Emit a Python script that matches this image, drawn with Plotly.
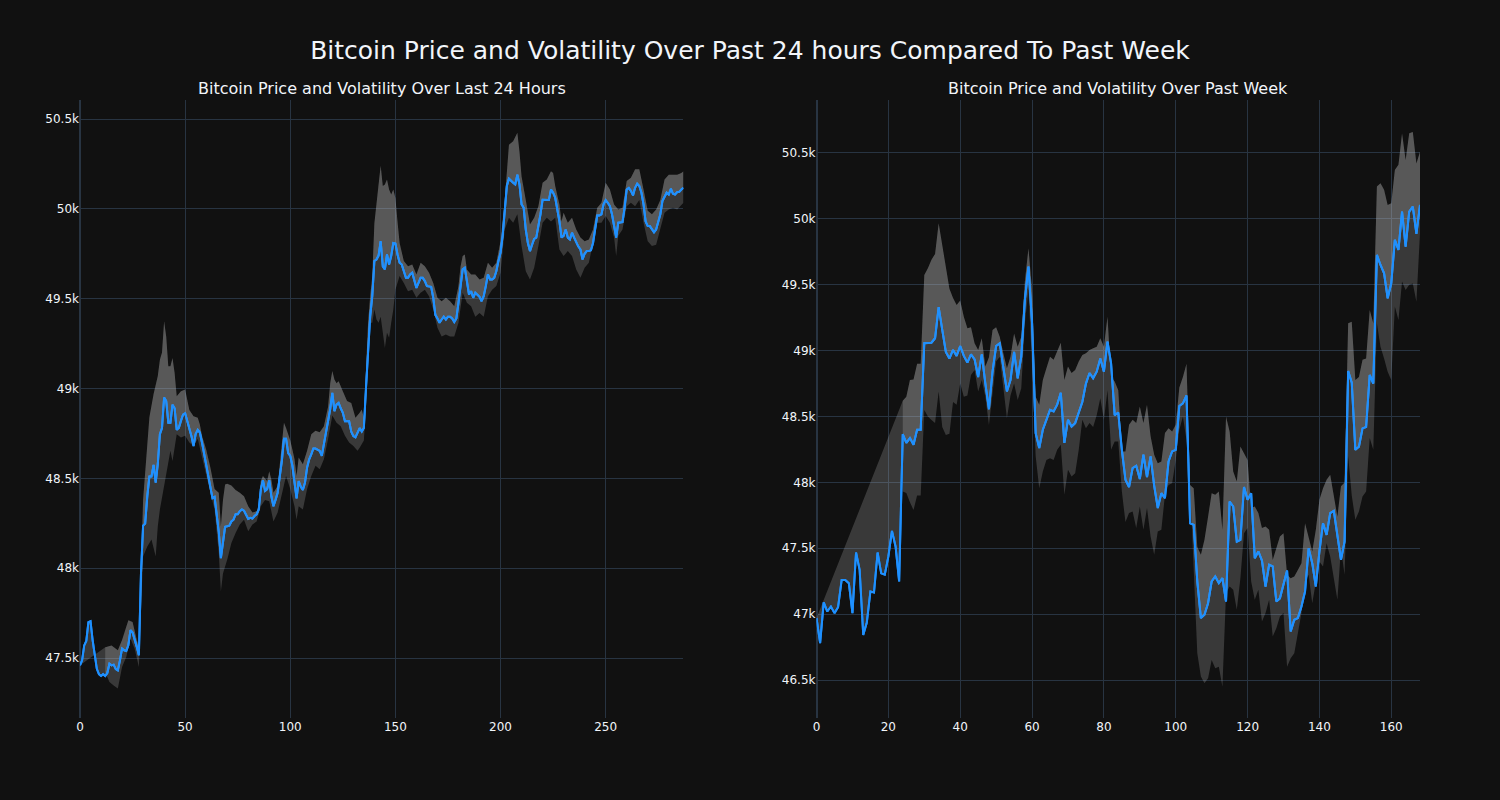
import plotly.graph_objects as go
from plotly.subplots import make_subplots

# ---------------- Last 24 hours (5-minute steps) ----------------
day_price = [
    47459, 47487, 47570, 47595, 47700, 47705, 47600, 47515, 47440, 47410,
    47400, 47410, 47400, 47416, 47468, 47459, 47463, 47438, 47431, 47487,
    47552, 47543, 47539, 47571, 47655, 47642, 47608, 47562, 47515, 47970,
    48237, 48248, 48400, 48510, 48510, 48575, 48476, 48580, 48746, 48780,
    48950, 48930, 48810, 48810, 48910, 48890, 48770, 48780, 48820, 48855,
    48862, 48820, 48780, 48735, 48680, 48746, 48770, 48755, 48700, 48640,
    48578, 48513, 48457, 48390, 48397, 48310, 48200, 48056, 48140, 48230,
    48233, 48237, 48260, 48270, 48300, 48300, 48317, 48327, 48320, 48300,
    48274, 48280, 48276, 48290, 48300, 48326, 48440, 48490, 48430, 48440,
    48490, 48400, 48345, 48380, 48420, 48510, 48597, 48720, 48720, 48640,
    48625, 48570, 48476, 48388, 48485, 48453, 48435, 48476, 48560, 48606,
    48634, 48666, 48666, 48660, 48653, 48625, 48700, 48756, 48820, 48886,
    48976, 48874, 48910, 48920, 48890, 48865, 48818, 48818, 48818, 48760,
    48735, 48728, 48756, 48780, 48760, 48780, 49000, 49226, 49400, 49514,
    49710, 49718, 49740, 49820, 49680, 49663, 49746, 49690, 49737, 49810,
    49807, 49746, 49700, 49690, 49653, 49616, 49616, 49635, 49644, 49607,
    49560, 49588, 49616, 49616, 49598, 49570, 49570, 49566, 49505, 49410,
    49390, 49366, 49384, 49400, 49384, 49400, 49400, 49390, 49370, 49390,
    49477, 49588, 49663, 49672, 49600, 49523, 49542, 49505, 49533, 49523,
    49510, 49486, 49514, 49570, 49635, 49607, 49607, 49616, 49653, 49710,
    49755, 49850, 49990, 50127, 50168, 50155, 50146, 50136, 50190, 50136,
    50025, 50006, 49885, 49810, 49765, 49800, 49833, 49840, 49895, 49970,
    50050, 50050, 50050, 50049, 50108, 50090, 50062, 50006, 49930, 49840,
    49850, 49885, 49840, 49830, 49867, 49840, 49810, 49790, 49774, 49718,
    49750, 49765, 49765, 49770, 49810, 49885, 49963, 49963, 49970, 50025,
    50049, 50034, 50015, 49970, 49904, 49840, 49923, 49923, 49926, 50006,
    50108, 50117, 50100, 50075, 50117, 50140, 50127, 50090, 50025, 49930,
    49904, 49904, 49885, 49870, 49885, 49923, 49970, 50043, 50070, 50090,
    50080, 50112, 50084, 50080, 50093, 50095, 50108, 50117,
]
day_x = list(range(len(day_price)))

day_upper_x = [
    12, 15, 18, 20, 23, 25, 27, 28, 30, 33, 35, 37, 38, 39, 40, 41, 42, 43, 44, 45,
    46, 48, 50, 52, 54, 56, 57, 58, 60, 62, 64, 66, 67, 68, 69, 70, 72, 74, 76, 78,
    80, 82, 84, 85, 86, 87, 89, 90, 91, 92, 94, 96, 97, 98, 100, 101, 102, 103, 104, 106,
    108, 110, 112, 114, 116, 118, 119, 120, 121, 122, 123, 125, 127, 129, 131, 133, 134, 135, 136, 137,
    138, 139, 140, 141, 142, 143, 144, 145, 146, 147, 148, 149, 150, 151, 152, 154, 156, 158, 160, 162,
    164, 166, 168, 170, 172, 174, 176, 178, 180, 181, 182, 183, 184, 186, 188, 190, 192, 194, 196, 198,
    200, 202, 203, 204, 206, 208, 209, 210, 212, 214, 216, 218, 220, 222, 224, 225, 226, 228, 229, 230,
    232, 234, 236, 238, 240, 242, 244, 246, 248, 250, 252, 254, 256, 258, 260, 262, 264, 266, 268, 270,
    272, 274, 276, 278, 280, 282, 284, 286, 287,
]
day_upper = [
    47560, 47570, 47543, 47600, 47710, 47700, 47600, 47560, 48380, 48840, 48970, 49070, 49160, 49200, 49375, 49290, 49124, 49124, 49170, 49087,
    48957, 48985, 48994, 48880, 48845, 48837, 48800, 48737, 48660, 48560, 48440, 48420, 48233, 48380, 48466, 48470, 48460, 48435, 48420, 48400,
    48345, 48310, 48317, 48345, 48485, 48513, 48485, 48540, 48494, 48420, 48457, 48700, 48810, 48780, 48710, 48660, 48607, 48513, 48616, 48578,
    48653, 48746, 48765, 48756, 48790, 48900, 49030, 49097, 49050, 49030, 49040, 48985, 48930, 48920, 48837, 48865, 48883, 48837, 49100, 49366,
    49514, 49626, 49920, 50050, 50136, 50240, 50127, 50136, 50164, 50108, 50080, 50108, 50060, 49930, 49810, 49710, 49680, 49690, 49635, 49700,
    49680, 49644, 49588, 49505, 49486, 49505, 49486, 49458, 49570, 49680, 49737, 49746, 49663, 49635, 49635, 49607, 49616, 49700, 49672, 49700,
    49820, 50050, 50190, 50357, 50377, 50424, 50320, 50180, 50050, 49913, 49950, 50015, 50145, 50164, 50210, 50200, 50127, 50025, 49930, 49978,
    49923, 49950, 49885, 49840, 49820, 49830, 49885, 50006, 50034, 50145, 50108, 50025, 49997, 50006, 50155, 50173, 50220, 50220, 50108, 49990,
    49970, 49997, 50050, 50164, 50190, 50190, 50190, 50200, 50210,
]

day_lower_x = [
    12, 14, 16, 18, 20, 22, 24, 26, 28, 30, 32, 34, 36, 37, 38, 40, 42, 43, 44, 46,
    48, 50, 52, 54, 56, 58, 60, 62, 64, 66, 67, 68, 70, 72, 74, 76, 78, 80, 82, 84,
    86, 88, 90, 92, 94, 96, 98, 100, 102, 103, 104, 106, 108, 110, 112, 114, 116, 118, 120, 122,
    124, 126, 128, 130, 132, 133, 135, 136, 137, 138, 139, 140, 141, 142, 143, 144, 145, 146, 147, 148,
    149, 150, 152, 154, 156, 158, 160, 162, 164, 166, 168, 170, 172, 174, 176, 178, 180, 182, 184, 186,
    188, 190, 192, 194, 196, 198, 200, 202, 204, 206, 208, 210, 212, 214, 216, 218, 220, 222, 224, 226,
    228, 230, 232, 234, 236, 238, 240, 242, 244, 246, 248, 250, 252, 254, 255, 256, 258, 260, 262, 264,
    266, 268, 270, 272, 274, 276, 278, 280, 282, 284, 286, 287,
]
day_lower = [
    47420, 47366, 47347, 47330, 47450, 47506, 47608, 47552, 47450, 48065, 48120, 48160, 48065, 48233, 48326, 48457, 48570, 48653, 48597, 48746,
    48728, 48737, 48700, 48680, 48720, 48616, 48513, 48420, 48326, 48084, 47870, 47970, 48047, 48140, 48196, 48243, 48270, 48205, 48243, 48260,
    48345, 48380, 48373, 48260, 48310, 48420, 48513, 48440, 48345, 48270, 48345, 48326, 48440, 48513, 48570, 48550, 48606, 48720, 48850, 48810,
    48790, 48737, 48700, 48680, 48653, 48670, 48710, 48900, 49150, 49366, 49366, 49440, 49384, 49366, 49400, 49300, 49226, 49310, 49282, 49366,
    49440, 49550, 49626, 49588, 49542, 49550, 49505, 49533, 49550, 49514, 49440, 49338, 49290, 49300, 49290, 49290, 49366, 49533, 49477, 49458,
    49400, 49420, 49400, 49514, 49550, 49570, 49644, 49885, 49950, 49923, 49970, 49793, 49653, 49607, 49672, 49793, 49923, 49950, 49930, 49950,
    49774, 49737, 49765, 49737, 49663, 49616, 49672, 49700, 49810, 49923, 49923, 49960, 49923, 49840, 49737, 49850, 49885, 50015, 50034, 50015,
    50050, 49923, 49820, 49793, 49800, 49885, 49978, 49997, 50006, 49997, 50025, 50034,
]

# ---------------- Past week (hourly steps) ----------------
week_price = [
    46970, 46780, 47090, 47020, 47058, 47008, 47053, 47260, 47260, 47235,
    47008, 47468, 47336, 46843, 46937, 47172, 47164, 47468, 47310, 47300,
    47438, 47632, 47514, 47248, 48366, 48300, 48336, 48285, 48400, 48400,
    49056, 49056, 49060, 49094, 49330, 49157, 48990, 48940, 49005, 48960,
    49035, 48960, 48909, 48972, 48934, 48800, 48972, 48750, 48555, 48840,
    49035, 49056, 48866, 48690, 48777, 48990, 48790, 48954, 49385, 49638,
    49210, 48374, 48260, 48400, 48475, 48550, 48538, 48590, 48680, 48300,
    48475, 48424, 48450, 48538, 48610, 48750, 48830, 48790, 48840, 48940,
    48840, 49068, 48904, 48510, 48530, 48247, 48020, 47964, 48108, 48126,
    48025, 48210, 48040, 48197, 47974, 47805, 47918, 47880, 48159, 48235,
    48247, 48580, 48600, 48660, 47690, 47678, 47248, 46970, 46995, 47083,
    47248, 47286, 47235, 47273, 47096, 47855, 47817, 47550, 47564, 47964,
    47868, 47918, 47425, 47476, 47407, 47210, 47375, 47362, 47096, 47120,
    47223, 47331, 46868, 46957, 46970, 47058, 47172, 47500, 47387, 47210,
    47476, 47690, 47602, 47767, 47784, 47602, 47412, 47550, 48846, 48757,
    48247, 48270, 48410, 48420, 48815, 48750, 49726, 49650, 49587, 49397,
    49511, 49840, 49764, 50055, 49790, 50055, 50093, 49886, 50106,
]
week_x = list(range(len(week_price)))

week_band_x = list(range(24, 169))
week_upper = [
    48620, 48650, 48777, 48780, 48900, 48900, 49574, 49625, 49690, 49734,
    49966, 49790, 49612, 49470, 49400, 49347, 49380, 49258, 49170, 49177,
    49056, 49005, 49094, 48880, 48950, 49157, 49177, 49106, 48980, 48866,
    48954, 49130, 49030, 49106, 49524, 49777, 49460, 48650, 48590, 48777,
    48866, 48954, 48930, 48990, 49060, 48777, 48880, 48830, 48853, 48917,
    48967, 48980, 49005, 49018, 49030, 49094, 49030, 49258, 48800, 48765,
    48700, 48235, 48235, 48437, 48475, 48450, 48576, 48450, 48589, 48350,
    48210, 48146, 48159, 48374, 48410, 48387, 48437, 48720, 48800, 48900,
    47980, 47956, 47510, 47450, 47564, 47740, 47918, 47906, 47930, 47640,
    48500, 48387, 48083, 48007, 48273, 48222, 48170, 47805, 47817, 47767,
    47653, 47665, 47640, 47412, 47500, 47590, 47615, 47300, 47273, 47286,
    47336, 47387, 47690, 47590, 47476, 47640, 47868, 47956, 48020, 48058,
    47906, 47740, 47970, 48000, 49207, 49220, 48777, 48800, 48930, 48940,
    49309, 49207, 50245, 50270, 50220, 50105, 50118, 50370, 50410, 50650,
    50447, 50650, 50660, 50420, 50510,
]
week_lower = [
    47930, 47920, 47850, 47790, 47900, 47900, 48550, 48500, 48474, 48450,
    48690, 48420, 48360, 48370, 48610, 48590, 48750, 48650, 48660, 48815,
    48853, 48690, 48777, 48650, 48436, 48660, 48917, 48954, 48714, 48486,
    48660, 48750, 48625, 48714, 49207, 49460, 48880, 48200, 47956, 48083,
    48170, 48184, 48170, 48247, 48285, 47906, 48096, 48045, 48070, 48247,
    48475, 48410, 48450, 48420, 48510, 48638, 48474, 48700, 48247, 48310,
    48310, 47930, 47700, 47767, 47780, 47653, 47817, 47640, 47805, 47590,
    47450, 47627, 47640, 47906, 47980, 47994, 48170, 48400, 48500, 48320,
    47980, 47387, 46704, 46527, 46476, 46514, 46653, 46590, 46600, 46450,
    47160, 47210, 47185, 47033, 47273, 47615, 47653, 47248, 47109, 47185,
    46944, 47008, 47109, 46830, 46894, 46982, 47008, 46600, 46666, 46704,
    46843, 47008, 47248, 47300, 47083, 47248, 47400, 47362, 47539, 47438,
    47260, 47109, 47500, 47300, 48200, 47900, 47716, 47780, 47893, 47930,
    48336, 48247, 49207, 49030, 48940, 48840, 48777, 49334, 49233, 49524,
    49460, 49500, 49510, 49370, 49890,
]

title_main = "Bitcoin Price and Volatility Over Past 24 hours Compared To Past Week"
title_left = "Bitcoin Price and Volatility Over Last 24 Hours"
title_right = "Bitcoin Price and Volatility Over Past Week"

LINE = "#1E90FF"
FILL = "rgba(200,200,200,0.22)"

fig = make_subplots(rows=1, cols=2, subplot_titles=(title_left, title_right),
                    horizontal_spacing=0.0993)


def add_panel(col, x, price, ux, upper, lx, lower):
    fig.add_trace(go.Scatter(x=x, y=price, mode="lines",
                             line=dict(color=LINE, width=2), showlegend=False),
                  row=1, col=col)
    fig.add_trace(go.Scatter(x=ux, y=upper, mode="lines", line=dict(width=0),
                             fill="tonexty", fillcolor=FILL, showlegend=False),
                  row=1, col=col)
    fig.add_trace(go.Scatter(x=lx, y=lower, mode="lines", line=dict(width=0),
                             fill="tonexty", fillcolor=FILL, showlegend=False),
                  row=1, col=col)
    fig.add_trace(go.Scatter(x=x, y=price, mode="lines",
                             line=dict(color=LINE, width=2), showlegend=False),
                  row=1, col=col)


add_panel(1, day_x, day_price, day_upper_x, day_upper, day_lower_x, day_lower)
add_panel(2, week_x, week_price, week_band_x, week_upper, week_band_x, week_lower)

fig.update_layout(
    template="plotly_dark",
    width=1500, height=800,
    paper_bgcolor="#111111", plot_bgcolor="#111111",
    font=dict(family="DejaVu Sans, Verdana, sans-serif"),
    margin=dict(l=80, r=80, t=100, b=82),
    title=dict(text=title_main, x=0.5, xanchor="center", y=0.9375, yanchor="middle",
               font=dict(size=25)),
    showlegend=False,
)
fig.update_annotations(font_size=16)
fig.update_xaxes(range=[0, 287], row=1, col=1)
fig.update_xaxes(range=[0, 168], row=1, col=2)
fig.update_yaxes(range=[47166, 50606], row=1, col=1)
fig.update_yaxes(range=[46212, 50902], row=1, col=2)

fig.write_html(
    "out.html",
    config={"displayModeBar": False},
    post_script="document.body.style.margin='0';"
                "document.body.style.backgroundColor='#111111';"
                "document.body.style.overflow='hidden';",
)
